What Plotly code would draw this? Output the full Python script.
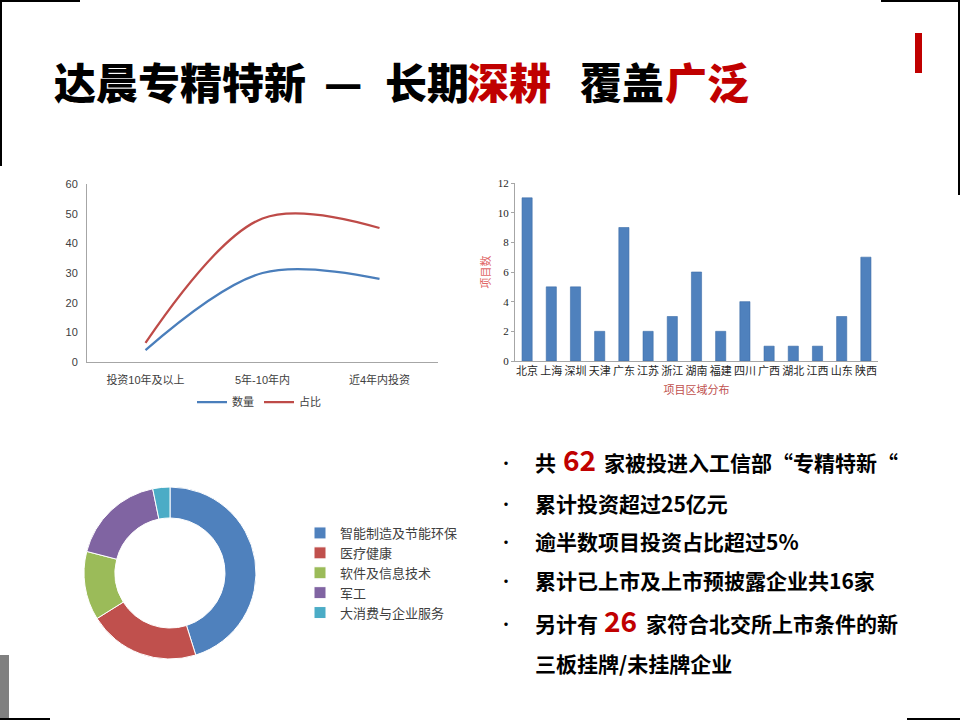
import plotly.graph_objects as go

W, H = 960, 720


def px(x):
    return x / W


def py(y):
    return 1 - y / H


# ---------------- data ----------------
line_categories = ["投资10年及以上", "5年-10年内", "近4年内投资"]
count_values = [4, 30, 28]
share_values = [6.45, 48.39, 45.16]
line_series_names = ["数量", "占比"]

region_names = ["北京", "上海", "深圳", "天津", "广东", "江苏", "浙江", "湖南",
                "福建", "四川", "广西", "湖北", "江西", "山东", "陕西"]
region_counts = [11, 5, 5, 2, 9, 2, 3, 6, 2, 4, 1, 1, 1, 3, 7]
bar_y_title = "项目数"
bar_x_title = "项目区域分布"

sector_names = ["智能制造及节能环保", "医疗健康", "软件及信息技术", "军工", "大消费与企业服务"]
sector_counts = [28, 13, 8, 11, 2]
sector_colors = ["#4F81BD", "#C0504D", "#9BBB59", "#8064A2", "#4BACC6"]

title_segments = [("达晨专精特新", "#000000", 52), ("—", "#000000", 322),
                  ("长期", "#000000", 383), ("深耕", "#C00000", 465),
                  ("覆盖", "#000000", 578), ("广泛", "#C00000", 663)]

RED = "#C00000"
CJK = "Noto Sans CJK SC"

fig = go.Figure()

# ---------------- line chart ----------------
fig.add_trace(go.Scatter(
    x=line_categories, y=count_values, name=line_series_names[0], mode="lines",
    line=dict(color="#4A7EBB", width=2.25, shape="spline", smoothing=1.0),
    xaxis="x", yaxis="y", legend="legend"))
fig.add_trace(go.Scatter(
    x=line_categories, y=share_values, name=line_series_names[1], mode="lines",
    line=dict(color="#BE4B48", width=2.25, shape="spline", smoothing=1.0),
    xaxis="x", yaxis="y", legend="legend"))

# ---------------- bar chart ----------------
fig.add_trace(go.Bar(
    x=region_names, y=region_counts, showlegend=False,
    marker=dict(color="#4F81BD", line=dict(color="#3D6DA8", width=0.6)),
    xaxis="x2", yaxis="y2"))

# ---------------- donut ----------------
fig.add_trace(go.Pie(
    labels=sector_names, values=sector_counts, hole=0.64, sort=False,
    direction="clockwise", rotation=0, textinfo="none", hoverinfo="label+value",
    marker=dict(colors=sector_colors, line=dict(color="#FFFFFF", width=1)),
    domain=dict(x=[px(84), px(256)], y=[py(659), py(487)]),
    legend="legend2"))

tick_font_sans = dict(family="Liberation Sans, " + CJK, size=11, color="#404040")
tick_font_serif = dict(family="Liberation Serif, " + CJK, size=11, color="#262626")

fig.update_layout(
    width=W, height=H,
    margin=dict(l=0, r=0, t=0, b=0, pad=0, autoexpand=False),
    paper_bgcolor="white", plot_bgcolor="white",
    bargap=0.58,
    xaxis=dict(domain=[px(87), px(438)], range=[-0.5, 2.5], showline=True,
               linecolor="#A6A6A6", linewidth=1, showgrid=False, zeroline=False,
               ticks="", tickfont=tick_font_sans, fixedrange=True, automargin=False,
               tickangle=0, ticklabelstandoff=8),
    yaxis=dict(domain=[py(362), py(184)], range=[0, 60], dtick=10,
               showline=True, linecolor="#A6A6A6", linewidth=1, showgrid=False,
               zeroline=False, ticks="", tickfont=tick_font_sans, fixedrange=True,
               automargin=False, ticklabelstandoff=6),
    xaxis2=dict(domain=[px(515), px(878)], anchor="y2", showline=True,
                linecolor="#A6A6A6", linewidth=1, showgrid=False, zeroline=False,
                ticks="", tickfont=tick_font_serif, fixedrange=True,
                range=[-0.5, 14.5], tickangle=0, automargin=False,
                title=dict(text=bar_x_title, standoff=10,
                           font=dict(family=CJK, size=11, color="#C0504D"))),
    yaxis2=dict(domain=[py(361), py(183)], anchor="x2", range=[0, 12], dtick=2,
                showline=True, linecolor="#A6A6A6", linewidth=1, showgrid=False,
                zeroline=False, ticks="outside", ticklen=3, tickcolor="#A6A6A6",
                tickfont=tick_font_serif, fixedrange=True, automargin=False,
                title=dict(text=bar_y_title, standoff=4,
                           font=dict(family=CJK, size=11, color="#E06666"))),
    legend=dict(orientation="h", x=px(259), y=py(402), xanchor="center",
                yanchor="middle", font=dict(family=CJK, size=11, color="#404040"),
                itemwidth=30, bgcolor="rgba(0,0,0,0)"),
    legend2=dict(orientation="v", x=px(300), y=py(518), xanchor="left",
                 yanchor="top", font=dict(family=CJK, size=13, color="#404040"),
                 bgcolor="rgba(0,0,0,0)"),
)

# ---------------- title ----------------
annotations = []
for text, color, x0 in title_segments:
    annotations.append(dict(
        text=text, x=px(x0), y=py(80), xref="paper", yref="paper",
        xanchor="left", yanchor="middle", showarrow=False,
        font=dict(family=CJK, size=42, color=color, weight=900)))

# ---------------- bullet text ----------------
body = dict(family=CJK, size=21, color="#000000", weight=700)
big = dict(family=CJK, size=28, color=RED, weight=700)

bullet_rows = [462, 503, 541, 580, 623]
for yb in bullet_rows:
    annotations.append(dict(text="•", x=px(506), y=py(yb), xref="paper", yref="paper",
                            xanchor="center", yanchor="middle", showarrow=False,
                            font=dict(family=CJK, size=16, color="#000000")))

text_runs = [
    ("共", body, 533, 462), ("62", big, 561, 459), ("家被投进入工信部“专精特新“", body, 602, 462),
    ("累计投资超过25亿元", body, 533, 503),
    ("逾半数项目投资占比超过5%", body, 533, 541),
    ("累计已上市及上市预披露企业共16家", body, 533, 580),
    ("另计有", body, 533, 623), ("26", big, 602, 620), ("家符合北交所上市条件的新", body, 644, 623),
    ("三板挂牌/未挂牌企业", body, 533, 663),
]
for text, font, x0, y0 in text_runs:
    annotations.append(dict(text=text, x=px(x0), y=py(y0), xref="paper", yref="paper",
                            xanchor="left", yanchor="middle", showarrow=False, font=font))

fig.update_layout(annotations=annotations)

# ---------------- slide decorations ----------------
shapes = [
    dict(type="line", x0=px(0), x1=px(80), y0=py(1), y1=py(1), line=dict(color="black", width=2)),
    dict(type="line", x0=px(1), x1=px(1), y0=py(0), y1=py(166), line=dict(color="black", width=2)),
    dict(type="line", x0=px(881), x1=px(960), y0=py(1), y1=py(1), line=dict(color="black", width=2)),
    dict(type="line", x0=px(959), x1=px(959), y0=py(0), y1=py(195), line=dict(color="black", width=2)),
    dict(type="rect", x0=px(915), x1=px(922), y0=py(73), y1=py(33), fillcolor=RED, line=dict(width=0)),
    dict(type="rect", x0=px(0), x1=px(9), y0=py(720), y1=py(655), fillcolor="#808080", line=dict(width=0)),
    dict(type="line", x0=px(0), x1=px(50), y0=py(719), y1=py(719), line=dict(color="black", width=2)),
    dict(type="line", x0=px(907), x1=px(960), y0=py(719), y1=py(719), line=dict(color="black", width=2)),
]
for s in shapes:
    s.update(xref="paper", yref="paper")
fig.update_layout(shapes=shapes)

fig.write_html("out.html", config={"displayModeBar": False},
               post_script="document.body.style.margin='0';document.body.style.overflow='hidden';")
